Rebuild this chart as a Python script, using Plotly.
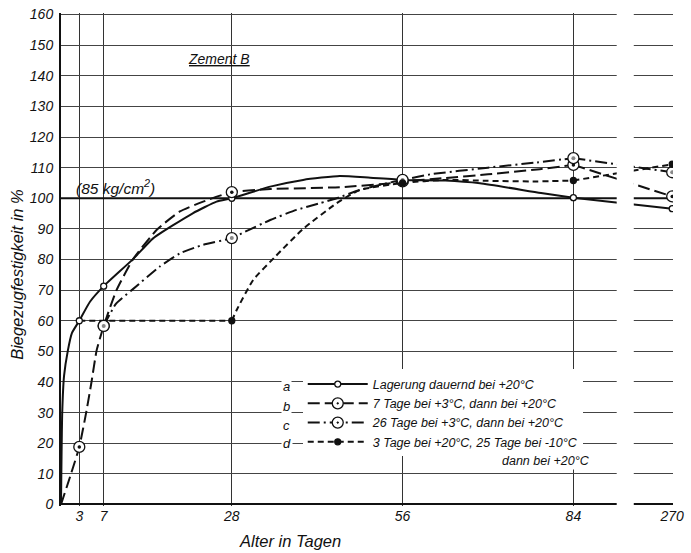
import plotly.graph_objects as go

# ---------------- data ----------------
X270 = 100.2            # axis position of day 270 on the broken x axis
BREAK_FROM, BREAK_TO = 91.1, 93.9

tick_days = [3, 7, 28, 56, 84, 270]
tick_labels = ["3", "7", "28", "56", "84", "270"]
y_ticks = list(range(0, 161, 10))

# measured points (markers)
a_days = [3, 7, 28, 56, 84, 270]
a_vals = [60, 71.3, 100, 106, 100.2, 96.6]
b_days = [3, 7, 28, 56, 84, 270]
b_vals = [18.8, 58.3, 102, 105.5, 110.9, 100.6]
c_days = [7, 28, 56, 84, 270]
c_vals = [58.3, 87, 106, 113.1, 108.5]
d_days = [28, 56, 84, 270]
d_vals = [60, 105, 105.8, 111.1]

# drawn curves up to day 84
a_curve_days = [0, 0.2, 0.5, 1.1, 1.8, 3, 4.75, 7, 11.85, 15.1, 21.6, 25.5, 28,
                34.3, 39.7, 45.7, 50.7, 56, 63, 68.7, 78.7, 84]
a_curve_vals = [0, 30, 42, 50, 56, 60, 66.2, 71.3, 80.2, 86.9, 95.1, 98.9, 100,
                103.8, 106, 107.3, 106.7, 106, 105.8, 104.9, 101.7, 100.2]
b_curve_days = [0, 1.64, 3, 4.2, 5, 5.85, 7, 9.1, 11.85, 15.7, 19.5, 23.3, 28,
                34.3, 45.7, 54, 56, 63, 70, 78.5, 84]
b_curve_vals = [0, 10, 18.8, 30.8, 40, 50.4, 58.3, 70, 80.2, 89.7, 95.7, 98.9, 102,
                103, 103.6, 104.9, 105.5, 106.6, 107.8, 109.5, 110.9]
c_curve_days = [7, 9, 11.6, 16.2, 19.5, 23.3, 28, 30.2, 34.3, 38.6, 42.5, 45.2,
                49, 53.4, 56, 60.5, 70, 78, 84]
c_curve_vals = [58.3, 65.5, 70, 77.7, 82, 84.8, 87, 89.1, 92.9, 96.2, 98.4, 100,
                102.7, 104.9, 106, 107.8, 110, 111.7, 113.1]
d_flat_days = [3, 28]
d_flat_vals = [60, 60]
d_curve_days = [28, 28.8, 31.5, 35.1, 39.7, 45.2, 49, 56, 63.2, 70, 78, 84]
d_curve_vals = [60, 63.5, 73.3, 80.9, 90, 98.4, 102.7, 105, 106, 105.7, 105.5, 105.8]

names = {
    "a": "Lagerung dauernd bei +20°C",
    "b": "7 Tage bei +3°C, dann bei +20°C",
    "c": "26 Tage bei +3°C, dann bei +20°C",
    "d": "3 Tage bei +20°C, 25 Tage bei -10°C",
}
d_name_line2 = "dann bei +20°C"


def xpos(days):
    return [X270 if d == 270 else d for d in days]


FONT = "Liberation Sans, Arial, sans-serif"
INK = "#111111"

styles = {
    "a": dict(dash="solid", sym="circle", size=6, fill="white"),
    "b": dict(dash="12px,5px", sym="circle-dot", size=11, fill="white"),
    "c": dict(dash="12px,4px,2px,4px", sym="circle-dot", size=11, fill="white"),
    "d": dict(dash="6px,4px", sym="circle", size=6, fill=INK),
}

series = {
    "a": ([(a_curve_days, a_curve_vals)], a_days, a_vals),
    "b": ([(b_curve_days, b_curve_vals)], b_days, b_vals),
    "c": ([(c_curve_days, c_curve_vals)], c_days, c_vals),
    "d": ([(d_flat_days, d_flat_vals), (d_curve_days, d_curve_vals)], d_days, d_vals),
}

fig = go.Figure()

for key, (parts, md, mv) in series.items():
    st = styles[key]
    line = dict(color=INK, width=2, dash=st["dash"])
    for cd, cv in parts:
        fig.add_trace(go.Scatter(x=xpos(cd), y=cv, mode="lines",
                                 line=dict(**line, shape="spline", smoothing=0.5),
                                 showlegend=False, hoverinfo="skip"))
    # straight continuation 84 -> 270 across the axis break
    fig.add_trace(go.Scatter(x=xpos(md[-2:]), y=mv[-2:], mode="lines", line=line,
                             showlegend=False, hoverinfo="skip"))

# markers drawn on top
for key, (parts, md, mv) in series.items():
    st = styles[key]
    fig.add_trace(go.Scatter(x=xpos(md), y=mv, mode="markers",
                             marker=dict(symbol=st["sym"], size=st["size"], color=st["fill"],
                                         line=dict(color=INK, width=1.3)),
                             showlegend=False))
    if key in ("b", "c"):
        fig.add_trace(go.Scatter(x=xpos(md), y=mv, mode="markers",
                                 marker=dict(symbol="circle", size=3.5 if key == "b" else 4,
                                             color=INK if key == "b" else "#888888"),
                                 showlegend=False, hoverinfo="skip"))

# legend entries
for key in ["a", "b", "c", "d"]:
    st = styles[key]
    fig.add_trace(go.Scatter(x=[None], y=[None], mode="lines+markers", name=names[key],
                             line=dict(color=INK, width=2, dash=st["dash"]),
                             marker=dict(symbol=st["sym"], size=st["size"], color=st["fill"],
                                         line=dict(color=INK, width=1.3))))

shapes = [
    dict(type="line", xref="x", yref="y", x0=0, x1=X270, y0=100, y1=100,
         line=dict(color=INK, width=2.2), layer="between"),
    dict(type="rect", xref="x", yref="y", x0=BREAK_FROM, x1=BREAK_TO, y0=-1.5, y1=161.5,
         fillcolor="white", line=dict(width=0), layer="above"),
]

italic = dict(family=FONT, color=INK, style="italic")

annotations = [
    dict(x=25.9, y=145.5, xref="x", yref="y", text="<u>Zement B</u>", showarrow=False,
         xanchor="center", yanchor="middle", font=dict(**italic, size=14)),
    dict(x=2.2, y=103.8, xref="x", yref="y", text="(85 kg/cm<sup>2</sup>)", showarrow=False,
         xanchor="left", yanchor="middle", font=dict(**italic, size=15.5)),
    dict(x=-0.071, y=0.47, xref="paper", yref="paper", text="Biegezugfestigkeit in %",
         textangle=-90, showarrow=False, xanchor="center", yanchor="middle",
         font=dict(**italic, size=16.5)),
    dict(x=0.374, y=-0.072, xref="paper", yref="paper", text="Alter in Tagen",
         showarrow=False, xanchor="center", yanchor="middle", font=dict(**italic, size=16.5)),
    dict(x=0.868, y=0.0905, xref="paper", yref="paper", text=d_name_line2, showarrow=False,
         xanchor="right", yanchor="middle", bgcolor="white", font=dict(**italic, size=12.5)),
]
letter_y = [0.2414, 0.2028, 0.1643, 0.1258]
for lt, ly in zip(["a", "b", "c", "d"], letter_y):
    annotations.append(dict(x=0.369, y=ly, xref="paper", yref="paper", text=lt, showarrow=False,
                            xanchor="center", yanchor="middle", bgcolor="white",
                            font=dict(**italic, size=13)))

fig.update_layout(
    width=691, height=553,
    margin=dict(l=61, r=18, t=13, b=47),
    paper_bgcolor="white", plot_bgcolor="white",
    font=dict(family=FONT, color=INK),
    shapes=shapes, annotations=annotations,
    legend=dict(x=0.395, y=0.277, xanchor="left", yanchor="top", bgcolor="white",
                borderwidth=0, itemwidth=60, font=dict(**italic, size=12.5),
                tracegroupgap=0),
    xaxis=dict(range=[0, X270 + 0.13], tickvals=xpos(tick_days), ticktext=tick_labels,
               showgrid=True, gridcolor="#333333", gridwidth=1, zeroline=False,
               showline=False, ticks="", automargin=False, tickfont=dict(**italic, size=14)),
    yaxis=dict(range=[-0.5, 160.5], tickvals=y_ticks, showgrid=True, gridcolor="#444444",
               gridwidth=1, zeroline=True, zerolinecolor=INK, zerolinewidth=2,
               showline=True, linecolor=INK, linewidth=2, ticks="", automargin=False,
               tickfont=dict(**italic, size=14), ticklabelstandoff=3),
)

fig.write_html("out.html", config={"displayModeBar": False},
               post_script="document.body.style.margin='0px';")
